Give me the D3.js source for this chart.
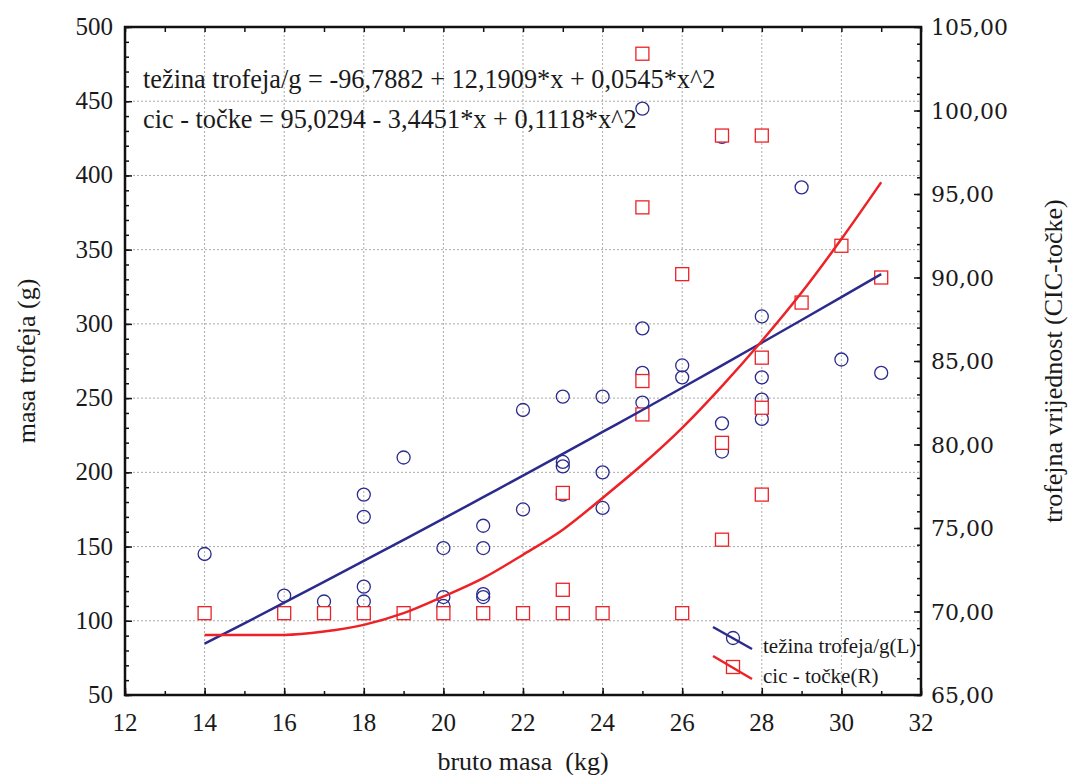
<!DOCTYPE html>
<html>
<head>
<meta charset="utf-8">
<script src="https://cdn.jsdelivr.net/npm/d3@7"></script>
<style>
  body { margin: 0; background: #fff; }
  svg text { font-family: "Liberation Serif", serif; fill: #1a1a1a; }
</style>
</head>
<body>
<svg id="chart" width="1070" height="775"></svg>
<script>
// bruto masa (kg) vs masa trofeja (g) - circles, left axis
var massX = [14, 16, 17, 18, 18, 18, 18, 19, 20, 20, 20, 21, 21, 21, 21, 22, 22,
             23, 23, 23, 23, 24, 24, 24, 25, 25, 25, 25, 26, 26, 27, 27, 27,
             28, 28, 28, 28, 29, 30, 31]
var massY = [145, 117, 113, 185, 170, 123, 113, 210, 149, 116, 110, 164, 149, 118, 116, 242, 175,
             251, 207, 204, 185, 251, 200, 176, 445, 297, 267, 247, 272, 264, 426, 233, 214,
             305, 264, 249, 236, 392, 276, 267]

// bruto masa (kg) vs CIC tocke - squares, right axis
var cicX = [14, 16, 17, 18, 19, 20, 21, 22, 23, 23, 23, 24, 25, 25, 25, 25, 26, 26,
            27, 27, 27, 28, 28, 28, 28, 29, 30, 31]
var cicY = [69.9, 69.9, 69.9, 69.9, 69.9, 69.9, 69.9, 69.9, 77.1, 71.3, 69.9, 69.9, 103.4, 94.2, 83.8, 81.8, 90.2, 69.9,
            98.5, 80.1, 74.3, 98.5, 85.2, 82.2, 77.0, 88.5, 91.9, 90.0]

// fitted curves
var fitX = [14, 15, 16, 17, 18, 19, 20, 21, 22, 23, 24, 25, 26, 27, 28, 29, 30, 31]
var fitMass = [84.6, 98.3, 112.2, 126.2, 140.3, 154.5, 168.8, 183.3, 197.8, 212.4, 227.2, 242.0, 257.0, 272.1, 287.3, 302.6, 318.0, 333.5]
var fitCic = [68.6, 68.6, 68.6, 68.8, 69.2, 69.9, 70.9, 72.0, 73.4, 74.9, 76.8, 78.8, 81.0, 83.5, 86.2, 89.1, 92.3, 95.7]

var xTicks = [12, 14, 16, 18, 20, 22, 24, 26, 28, 30, 32]
var leftTicks = [50, 100, 150, 200, 250, 300, 350, 400, 450, 500]
var rightTicks = [65, 70, 75, 80, 85, 90, 95, 100, 105]

var eq1 = "težina trofeja/g = -96,7882 + 12,1909*x + 0,0545*x^2"
var eq2 = "cic - točke = 95,0294 - 3,4451*x + 0,1118*x^2"
var legendNames = ["težina trofeja/g(L)", "cic - točke(R)"]

var dims = { width: 1070, height: 775, margin: { top: 27, bottom: 80, left: 125, right: 149 } }
var blue = "#2b2b8e", red = "#ec2227"

var svg = d3.select("#chart").attr("font-family", "Liberation Serif")

var xScale = d3.scaleLinear().domain([12, 32]).range([dims.margin.left, dims.width - dims.margin.right])
var yLeft = d3.scaleLinear().domain([50, 500]).range([dims.height - dims.margin.bottom, dims.margin.top])
var yRight = d3.scaleLinear().domain([65, 105]).range([dims.height - dims.margin.bottom, dims.margin.top])

var x0 = xScale(12), x1 = xScale(32), y0 = yLeft(50), y1 = yLeft(500)

// grid
var grid = svg.append("g").attr("stroke", "#aaa").attr("stroke-dasharray", "2,2").attr("stroke-width", 1)
grid.selectAll("line.gx").data(xTicks.slice(1, -1)).enter().append("line")
    .attr("x1", d => xScale(d)).attr("x2", d => xScale(d)).attr("y1", y1).attr("y2", y0)
grid.selectAll("line.gy").data(leftTicks.slice(1, -1)).enter().append("line")
    .attr("y1", d => yLeft(d)).attr("y2", d => yLeft(d)).attr("x1", x0).attr("x2", x1)

// axes, ticks pointing inside
svg.append("g").attr("transform", `translate(0,${y0})`)
   .call(d3.axisTop(xScale).tickValues(d3.range(12, 33, 1)).tickSize(4).tickFormat(""))
svg.append("g").attr("transform", `translate(0,${y0})`)
   .call(d3.axisTop(xScale).tickValues(xTicks).tickSize(7).tickFormat(""))
svg.append("g").attr("transform", `translate(0,${y1})`)
   .call(d3.axisBottom(xScale).tickValues(d3.range(12, 33, 1)).tickSize(5).tickFormat(""))
svg.append("g").attr("transform", `translate(${x0},0)`)
   .call(d3.axisRight(yLeft).tickValues(d3.range(50, 501, 10)).tickSize(4).tickFormat(""))
svg.append("g").attr("transform", `translate(${x0},0)`)
   .call(d3.axisRight(yLeft).tickValues(leftTicks).tickSize(7).tickFormat(""))
svg.append("g").attr("transform", `translate(${x1},0)`)
   .call(d3.axisLeft(yRight).tickValues(d3.range(65, 106, 1)).tickSize(4).tickFormat(""))
svg.append("g").attr("transform", `translate(${x1},0)`)
   .call(d3.axisLeft(yRight).tickValues(rightTicks).tickSize(7).tickFormat(""))
svg.selectAll(".domain").remove()
svg.selectAll(".tick line").attr("stroke", "#111").attr("stroke-width", 1.5)

// frame
svg.append("rect").attr("x", x0).attr("y", y1).attr("width", x1 - x0).attr("height", y0 - y1)
   .attr("fill", "none").attr("stroke", "#111").attr("stroke-width", 2.5)

// tick labels
svg.append("g").selectAll("text").data(xTicks).enter().append("text")
   .attr("x", d => xScale(d)).attr("y", y0 + 36).attr("text-anchor", "middle")
   .style("font-size", "25px").text(d => d)
svg.append("g").selectAll("text").data(leftTicks).enter().append("text")
   .attr("x", x0 - 12).attr("y", d => yLeft(d) + 8).attr("text-anchor", "end")
   .style("font-size", "25px").text(d => d)
svg.append("g").selectAll("text").data(rightTicks).enter().append("text")
   .attr("x", x1 + 10).attr("y", d => yRight(d) + 8).attr("text-anchor", "start")
   .style("font-family", "DejaVu Serif").style("font-size", "22px")
   .text(d => d3.format(".2f")(d).replace(".", ","))

// axis titles
svg.append("text").attr("x", (x0 + x1) / 2).attr("y", y0 + 75).attr("text-anchor", "middle")
   .style("font-size", "26px").style("white-space", "pre").text("bruto masa  (kg)")
svg.append("text").attr("transform", `translate(35,${(y0 + y1) / 2}) rotate(-90)`)
   .attr("text-anchor", "middle").style("font-size", "26px").text("masa trofeja (g)")
svg.append("text").attr("transform", `translate(1062,${(y0 + y1) / 2}) rotate(-90)`)
   .attr("text-anchor", "middle").style("font-size", "26px").text("trofejna vrijednost (CIC-točke)")

// equations
svg.append("text").attr("x", 143).attr("y", 88).style("font-size", "26.3px").text(eq1)
svg.append("text").attr("x", 143).attr("y", 128).style("font-size", "26.3px").text(eq2)

// points
var massPts = massX.map((d, i) => [d, massY[i]])
var cicPts = cicX.map((d, i) => [d, cicY[i]])

svg.append("g").selectAll("circle").data(massPts).enter().append("circle")
   .attr("cx", d => xScale(d[0])).attr("cy", d => yLeft(d[1])).attr("r", 6.5)
   .attr("fill", "none").attr("stroke", blue).attr("stroke-width", 1.3)

var sq = 13
svg.append("g").selectAll("rect").data(cicPts).enter().append("rect")
   .attr("x", d => xScale(d[0]) - sq / 2).attr("y", d => yRight(d[1]) - sq / 2)
   .attr("width", sq).attr("height", sq)
   .attr("fill", "#fff").attr("stroke", red).attr("stroke-width", 1.3)

// fitted lines
var massLine = d3.line().x((d, i) => xScale(fitX[i])).y(d => yLeft(d)).curve(d3.curveMonotoneX)
var cicLine = d3.line().x((d, i) => xScale(fitX[i])).y(d => yRight(d)).curve(d3.curveMonotoneX)
svg.append("path").attr("d", massLine(fitMass)).attr("fill", "none").attr("stroke", blue).attr("stroke-width", 2.5)
svg.append("path").attr("d", cicLine(fitCic)).attr("fill", "none").attr("stroke", red).attr("stroke-width", 2.5)

// legend
var legend = svg.append("g")
legend.append("circle").attr("cx", 733).attr("cy", 638).attr("r", 6.5)
      .attr("fill", "none").attr("stroke", blue).attr("stroke-width", 1.3)
legend.append("line").attr("x1", 713).attr("y1", 627).attr("x2", 752).attr("y2", 649)
      .attr("stroke", blue).attr("stroke-width", 2.5)
legend.append("rect").attr("x", 733 - sq / 2).attr("y", 667 - sq / 2).attr("width", sq).attr("height", sq)
      .attr("fill", "#fff").attr("stroke", red).attr("stroke-width", 1.3)
legend.append("line").attr("x1", 713).attr("y1", 656).attr("x2", 752).attr("y2", 679)
      .attr("stroke", red).attr("stroke-width", 2.5)
legend.selectAll("text.lg").data(legendNames).enter().append("text")
      .attr("x", 763).attr("y", (d, i) => 653 + i * 30).style("font-size", "21px").text(d => d)
</script>
</body>
</html>
